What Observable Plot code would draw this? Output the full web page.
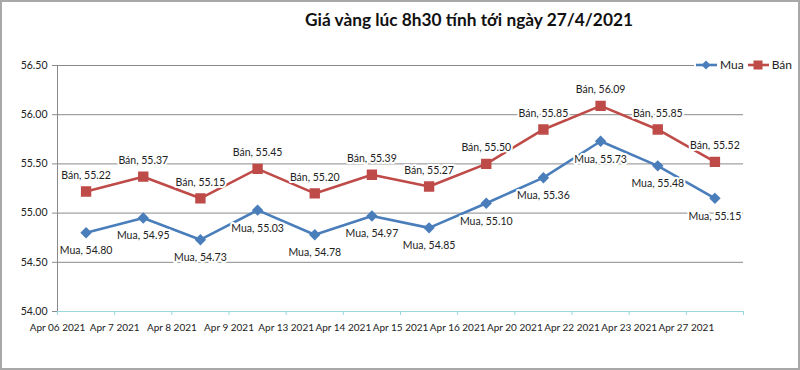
<!DOCTYPE html>
<html>
<head>
<meta charset="utf-8">
<script src="https://cdn.jsdelivr.net/npm/d3@7"></script>
<script src="https://cdn.jsdelivr.net/npm/@observablehq/plot@0.6"></script>
<style>
  html, body { margin: 0; padding: 0; background: #fff; }
  #wrap { position: relative; width: 800px; height: 370px; overflow: hidden; font-family: Lato, "Open Sans", sans-serif; }
  #wrap svg.plot { position: absolute; left: 0; top: 0; }
  #border { position: absolute; left: 0; top: 0; width: 800px; height: 370px; box-sizing: border-box; border: 2px solid #a8a8a8; pointer-events: none; }
  #title { position: absolute; top: 9px; left: 469px; transform: translateX(-50%); font-family: Lato, sans-serif; font-weight: 700; font-size: 17.3px; color: #111; white-space: nowrap; }
  #legend { position: absolute; left: 694px; top: 57px; background: #fff; display: flex; align-items: center; font-size: 12px; color: #222; padding: 0 2px; }
  #legend .item { display: flex; align-items: center; margin-right: 4px; }
</style>
</head>
<body>
<div id="wrap">
  <div id="chart"></div>
  <div id="title">Giá vàng lúc 8h30 tính tới ngày 27/4/2021</div>
  <div id="legend"></div>
  <div id="border"></div>
</div>
<script>
const dates = ["Apr 06 2021", "Apr 7 2021", "Apr 8 2021", "Apr 9 2021", "Apr 13 2021", "Apr 14 2021",
               "Apr 15 2021", "Apr 16 2021", "Apr 20 2021", "Apr 22 2021", "Apr 23 2021", "Apr 27 2021"];
const mua = [54.80, 54.95, 54.73, 55.03, 54.78, 54.97, 54.85, 55.10, 55.36, 55.73, 55.48, 55.15];
const ban = [55.22, 55.37, 55.15, 55.45, 55.20, 55.39, 55.27, 55.50, 55.85, 56.09, 55.85, 55.52];
const yTicks = [54.0, 54.5, 55.0, 55.5, 56.0, 56.5];
const seriesNames = ["Mua", "Bán"];
const colors = {"Mua": "#4a7ebb", "Bán": "#be4b48"};

const muaData = mua.map((v, i) => ({i: i + 0.5, v, s: "Mua"}));
const banData = ban.map((v, i) => ({i: i + 0.5, v, s: "Bán"}));
const fmt = d3.format(".2f");

const chart = Plot.plot({
  width: 800,
  height: 370,
  marginLeft: 57,
  marginRight: 57,
  marginTop: 65,
  marginBottom: 59,
  style: {fontFamily: "Lato, 'Open Sans', sans-serif", background: "transparent"},
  x: {domain: [0, dates.length], axis: null, label: null},
  y: {domain: [54, 56.5], axis: null, label: null},
  marks: [
    Plot.ruleY(yTicks.filter(d => d > 54), {stroke: "#8a8a8a", strokeWidth: 1}),
    Plot.ruleY([54], {stroke: "#9ad8dc", strokeWidth: 1.2}),
    Plot.ruleX([0], {stroke: "#8a8a8a", strokeWidth: 1}),
    Plot.axisY({ticks: yTicks, tickFormat: fmt, tickSize: 5, tickPadding: 5, stroke: "#8a8a8a", fontSize: 10.5, fill: "#222", anchor: "left", label: null}),
    Plot.axisX({ticks: d3.range(dates.length + 1), tickFormat: i => dates[i] ?? "", tickSize: 4, tickPadding: 8, stroke: "#9ad8dc", fontSize: 10, fill: "#222", anchor: "bottom", label: null}),
    Plot.line(muaData, {x: "i", y: "v", stroke: colors["Mua"], strokeWidth: 2.6}),
    Plot.line(banData, {x: "i", y: "v", stroke: colors["Bán"], strokeWidth: 2.6}),
    Plot.dot(muaData, {x: "i", y: "v", symbol: "diamond2", r: 4.2, fill: colors["Mua"], stroke: colors["Mua"]}),
    Plot.dot(banData, {x: "i", y: "v", symbol: "square", r: 5, fill: colors["Bán"], stroke: colors["Bán"]}),
    Plot.text(muaData, {x: "i", y: "v", text: d => `${d.s}, ${fmt(d.v)}`, dy: 18, fontSize: 10.5, fill: "#222", stroke: "white", strokeWidth: 4}),
    Plot.text(banData, {x: "i", y: "v", text: d => `${d.s}, ${fmt(d.v)}`, dy: -16, fontSize: 10.5, fill: "#222", stroke: "white", strokeWidth: 4})
  ]
});
chart.classList.add("plot");
document.getElementById("chart").appendChild(chart);

// legend
const legend = document.getElementById("legend");
seriesNames.forEach(name => {
  const item = document.createElement("div");
  item.className = "item";
  const sym = name === "Mua"
    ? `<path d="M10,1.5 L14.5,6 L10,10.5 L5.5,6 Z" fill="${colors[name]}"/>`
    : `<rect x="5.5" y="1.5" width="9" height="9" fill="${colors[name]}"/>`;
  item.innerHTML = `<svg width="22" height="12"><line x1="0" x2="21" y1="6" y2="6" stroke="${colors[name]}" stroke-width="2.6"/>${sym}</svg><span style="margin-left:2px">${name}</span>`;
  legend.appendChild(item);
});
</script>
</body>
</html>
